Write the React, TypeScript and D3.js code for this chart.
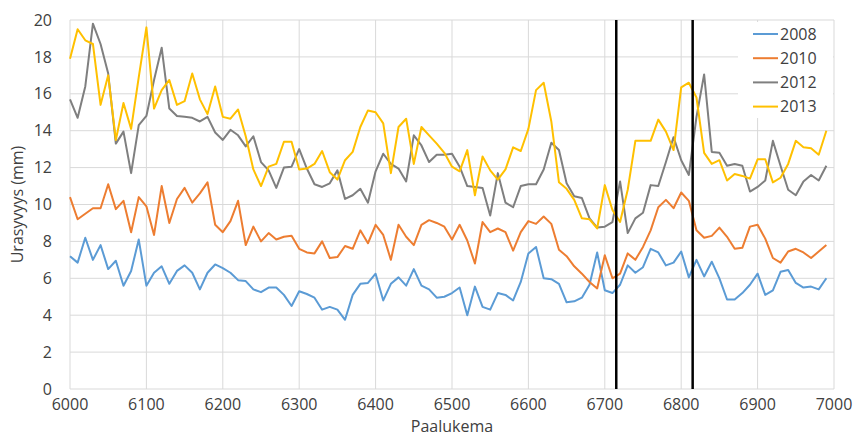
import { useEffect, useRef } from 'react'
import * as d3 from 'd3'

// chainage (Paalukema), one reading every 10
const chainage = [
  6000, 6010, 6020, 6030, 6040, 6050, 6060, 6070, 6080, 6090,
  6100, 6110, 6120, 6130, 6140, 6150, 6160, 6170, 6180, 6190,
  6200, 6210, 6220, 6230, 6240, 6250, 6260, 6270, 6280, 6290,
  6300, 6310, 6320, 6330, 6340, 6350, 6360, 6370, 6380, 6390,
  6400, 6410, 6420, 6430, 6440, 6450, 6460, 6470, 6480, 6490,
  6500, 6510, 6520, 6530, 6540, 6550, 6560, 6570, 6580, 6590,
  6600, 6610, 6620, 6630, 6640, 6650, 6660, 6670, 6680, 6690,
  6700, 6710, 6720, 6730, 6740, 6750, 6760, 6770, 6780, 6790,
  6800, 6810, 6820, 6830, 6840, 6850, 6860, 6870, 6880, 6890,
  6900, 6910, 6920, 6930, 6940, 6950, 6960, 6970, 6980, 6990,
]

const rut2008 = [
  7.2, 6.85, 8.2, 7.0, 7.8, 6.5, 6.95, 5.6, 6.4, 8.1,
  5.6, 6.3, 6.65, 5.7, 6.4, 6.7, 6.3, 5.4, 6.3, 6.75,
  6.55, 6.3, 5.9, 5.85, 5.4, 5.25, 5.5, 5.5, 5.1, 4.5,
  5.3, 5.15, 4.95, 4.3, 4.45, 4.3, 3.75, 5.1, 5.7, 5.75,
  6.25, 4.8, 5.7, 6.05, 5.6, 6.5, 5.6, 5.4, 4.95, 5.0,
  5.2, 5.5, 4.0, 5.55, 4.45, 4.3, 5.2, 5.1, 4.8, 5.8,
  7.35, 7.7, 6.0, 5.95, 5.7, 4.7, 4.75, 4.95, 5.65, 7.4,
  5.35, 5.2, 5.65, 6.7, 6.3, 6.6, 7.6, 7.4, 6.7, 6.85,
  7.45, 6.05, 7.0, 6.1, 6.9, 6.0, 4.85, 4.85, 5.2, 5.65,
  6.25, 5.1, 5.35, 6.35, 6.45, 5.75, 5.5, 5.55, 5.4, 6.0,
]

const rut2010 = [
  10.4, 9.2, 9.5, 9.8, 9.8, 11.1, 9.75, 10.2, 8.5, 10.4,
  9.9, 8.35, 11.0, 9.0, 10.3, 10.9, 10.1, 10.6, 11.2, 8.9,
  8.5, 9.1, 10.2, 7.8, 8.8, 8.0, 8.45, 8.1, 8.25, 8.3,
  7.6, 7.4, 7.35, 8.0, 7.1, 7.15, 7.75, 7.6, 8.6, 7.9,
  8.9, 8.35, 7.0, 8.9, 8.25, 7.8, 8.9, 9.15, 9.0, 8.8,
  8.1, 8.9, 8.05, 6.8, 9.05, 8.5, 8.7, 8.5, 7.5, 8.5,
  9.1, 8.95, 9.35, 8.95, 7.55, 7.2, 6.65, 6.25, 5.8, 5.45,
  7.25, 6.0, 6.25, 7.35, 7.0, 7.7, 8.6, 9.85, 10.25, 9.8,
  10.65, 10.2, 8.6, 8.2, 8.3, 8.75, 8.25, 7.6, 7.65, 8.8,
  8.9, 8.15, 7.1, 6.85, 7.45, 7.6, 7.4, 7.1, 7.45, 7.8,
]

const rut2012 = [
  15.7, 14.7, 16.4, 19.8, 18.7, 17.1, 13.3, 13.95, 11.7, 14.3,
  14.8, 16.75, 18.5, 15.2, 14.8, 14.75, 14.7, 14.5, 14.75, 13.9,
  13.5, 14.05, 13.75, 13.15, 13.7, 12.3, 11.85, 10.9, 12.0, 12.05,
  13.0, 11.95, 11.1, 10.95, 11.15, 11.85, 10.3, 10.5, 10.85, 10.1,
  11.8, 12.75, 12.2, 11.95, 11.25, 13.75, 13.2, 12.3, 12.7, 12.7,
  12.75, 12.05, 11.0, 10.95, 10.9, 9.4, 11.7, 10.1, 9.85, 11.0,
  11.1, 11.1, 11.9, 13.35, 12.95, 11.15, 10.45, 10.35, 9.25, 8.75,
  8.8, 9.05, 11.25, 8.45, 9.25, 9.55, 11.05, 11.0, 12.3, 13.65,
  12.4, 11.6, 14.75, 17.05, 12.85, 12.8, 12.1, 12.2, 12.1, 10.7,
  10.95, 11.3, 13.45, 12.1, 10.8, 10.5, 11.25, 11.6, 11.3, 12.1,
]

const rut2013 = [
  17.9, 19.5, 18.9, 18.7, 15.4, 17.0, 13.5, 15.5, 14.1, 16.9,
  19.6, 15.2, 16.2, 16.75, 15.4, 15.6, 17.1, 15.7, 14.9, 16.4,
  14.75, 14.65, 15.15, 13.7, 11.9, 11.0, 12.05, 12.2, 13.4, 13.4,
  11.9, 11.95, 12.2, 12.9, 11.75, 11.35, 12.4, 12.85, 14.2, 15.1,
  15.0, 14.4, 11.7, 14.2, 14.65, 12.2, 14.2, 13.75, 13.3, 12.8,
  12.05, 11.8, 12.95, 10.5, 12.6, 11.85, 11.35, 11.9, 13.1, 12.9,
  14.1, 16.2, 16.6, 14.5, 11.2, 10.85, 10.25, 9.25, 9.2, 8.7,
  11.05, 9.7, 9.05, 10.8, 13.45, 13.45, 13.45, 14.6, 13.95, 12.95,
  16.35, 16.6, 15.8, 12.8, 12.2, 12.4, 11.3, 11.65, 11.55, 11.4,
  12.45, 12.45, 11.2, 11.45, 12.2, 13.45, 13.1, 13.05, 12.7, 14.0,
]

const seriesNames = ['2008', '2010', '2012', '2013']
const seriesValues = [rut2008, rut2010, rut2012, rut2013]
const seriesColors = ['#5b9bd5', '#ed7d31', '#7f7f7f', '#ffc000']

// section boundaries drawn as black verticals
const markers = [6715, 6815]

const xTicks = [6000, 6100, 6200, 6300, 6400, 6500, 6600, 6700, 6800, 6900, 7000]
const yTicks = [0, 2, 4, 6, 8, 10, 12, 14, 16, 18, 20]

const WIDTH = 857
const HEIGHT = 441
const FONT = '"Open Sans", "Liberation Sans", sans-serif'
const TEXT = '#404040'
const GRID = '#d9d9d9'

export default function App() {
  const svgRef = useRef<SVGSVGElement>(null)

  useEffect(() => {
    if (!svgRef.current) return
    const svg = d3.select(svgRef.current)
    svg.selectAll('*').remove()

    const margin = { top: 20, right: 23, bottom: 52, left: 70 }
    const innerWidth = WIDTH - margin.left - margin.right
    const innerHeight = HEIGHT - margin.top - margin.bottom

    const g = svg.append('g').attr('transform', `translate(${margin.left},${margin.top})`)

    const xScale = d3.scaleLinear().domain([6000, 7000]).range([0, innerWidth])
    const yScale = d3.scaleLinear().domain([0, 20]).range([innerHeight, 0])

    // Grid lines
    g.append('g')
      .selectAll('line.h')
      .data(yTicks)
      .join('line')
      .attr('x1', 0)
      .attr('x2', innerWidth)
      .attr('y1', (d) => yScale(d))
      .attr('y2', (d) => yScale(d))
      .attr('stroke', GRID)
      .attr('stroke-width', 1)

    g.append('g')
      .selectAll('line.v')
      .data(xTicks)
      .join('line')
      .attr('x1', (d) => xScale(d))
      .attr('x2', (d) => xScale(d))
      .attr('y1', 0)
      .attr('y2', innerHeight)
      .attr('stroke', GRID)
      .attr('stroke-width', 1)

    // Tick labels
    g.append('g')
      .selectAll('text')
      .data(yTicks)
      .join('text')
      .attr('x', -18)
      .attr('y', (d) => yScale(d))
      .attr('dy', '0.35em')
      .attr('text-anchor', 'end')
      .attr('fill', TEXT)
      .attr('font-family', FONT)
      .attr('font-size', '16px')
      .text((d) => d)

    g.append('g')
      .selectAll('text')
      .data(xTicks)
      .join('text')
      .attr('x', (d) => xScale(d))
      .attr('y', innerHeight + 20.5)
      .attr('text-anchor', 'middle')
      .attr('fill', TEXT)
      .attr('font-family', FONT)
      .attr('font-size', '16px')
      .text((d) => d)

    // Axis titles
    g.append('text')
      .attr('x', innerWidth / 2)
      .attr('y', innerHeight + 42.5)
      .attr('text-anchor', 'middle')
      .attr('fill', TEXT)
      .attr('font-family', FONT)
      .attr('font-size', '16px')
      .text('Paalukema')

    g.append('text')
      .attr('transform', 'rotate(-90)')
      .attr('x', -innerHeight / 2)
      .attr('y', -53)
      .attr('dy', '0.35em')
      .attr('text-anchor', 'middle')
      .attr('fill', TEXT)
      .attr('font-family', FONT)
      .attr('font-size', '16px')
      .text('Urasyvyys (mm)')

    // Data lines
    seriesValues.forEach((values, i) => {
      const line = d3
        .line<number>()
        .x((_, j) => xScale(chainage[j]))
        .y((d) => yScale(d))

      g.append('path')
        .datum(values)
        .attr('fill', 'none')
        .attr('stroke', seriesColors[i])
        .attr('stroke-width', 2)
        .attr('stroke-linejoin', 'round')
        .attr('d', line)
    })

    // Marker lines
    g.append('g')
      .selectAll('line')
      .data(markers)
      .join('line')
      .attr('x1', (d) => xScale(d))
      .attr('x2', (d) => xScale(d))
      .attr('y1', 0)
      .attr('y2', innerHeight)
      .attr('stroke', '#000')
      .attr('stroke-width', 2.5)

    // Legend
    const legend = g.append('g').attr('transform', `translate(${innerWidth - 96},2)`)
    legend.append('rect').attr('width', 95).attr('height', 96).attr('fill', '#fff')

    const items = legend
      .selectAll('g')
      .data(seriesNames)
      .join('g')
      .attr('transform', (_, i) => `translate(0,${12 + i * 24.2})`)

    items
      .append('line')
      .attr('x1', 15)
      .attr('x2', 40)
      .attr('stroke', (_, i) => seriesColors[i])
      .attr('stroke-width', 2)

    items
      .append('text')
      .attr('x', 42)
      .attr('dy', '0.35em')
      .attr('fill', TEXT)
      .attr('font-family', FONT)
      .attr('font-size', '16px')
      .text((d) => d)
  }, [])

  return (
    <svg
      ref={svgRef}
      width={WIDTH}
      height={HEIGHT}
      style={{ position: 'absolute', left: 0, top: 0, background: '#fff' }}
    />
  )
}
